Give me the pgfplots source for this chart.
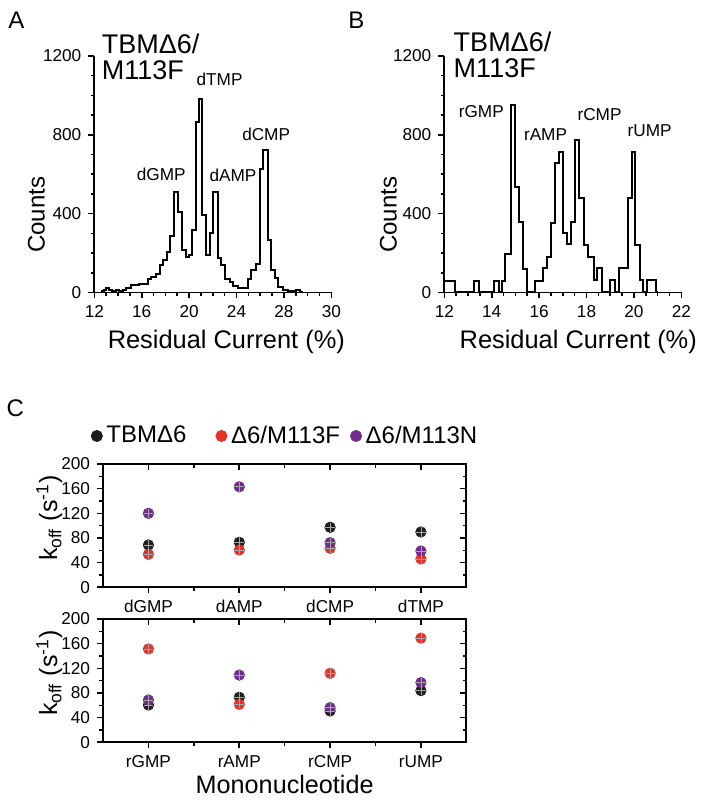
\documentclass[border=0pt]{standalone}
\usepackage{pgfplots}
\pgfplotsset{compat=1.18}
\usepackage{fontspec}
\setmainfont{Liberation Sans}
\definecolor{kred}{RGB}{226,52,43}
\definecolor{kpur}{RGB}{112,45,140}
\definecolor{kblk}{RGB}{30,30,30}

\pgfplotsset{
  histo/.style={
    scale only axis, width=118.5pt, height=118.25pt,
    axis lines=left, axis line style={-, line width=0.9pt},
    tick align=outside, major tick length=3pt, minor tick length=1.8pt,
    every tick/.append style={line width=0.8pt, black},
    ymin=0, ymax=1200, ytick={0,400,800,1200}, minor y tick num=3,
    tick label style={font=\fontsize{8.6}{9}\selectfont},
    /pgf/number format/assume math mode=true,
    /pgf/number format/1000 sep={},
    clip=false, scaled ticks=false,
  },
  kbox/.style={
    scale only axis, width=181.65pt, height=61.65pt,
    xmin=-0.5, xmax=3.5, ymin=0, ymax=200,
    xtick={0,1,2,3}, minor x tick num=1,
    ytick={0,40,...,200}, minor y tick num=1,
    axis line style={line width=0.9pt},
    major tick length=3pt, minor tick length=1.8pt,
    every tick/.append style={line width=0.8pt, black},
    tick label style={font=\fontsize{8.6}{9}\selectfont},
    /pgf/number format/assume math mode=true,
    clip=false,
  },
  kmain/.style={kbox, tick align=outside, xtick pos=bottom, ytick pos=left},
  kmirror/.style={kbox, tick align=inside, xtick pos=top, ytick pos=right,
    xticklabels={}, yticklabels={}},
  dot/.style={only marks, mark=*, mark size=2.6pt},
  cross/.style={only marks, mark=+, mark size=2.4pt, gray!70, forget plot,
    mark options={line width=0.4pt}},
}

\begin{document}
\begin{tikzpicture}
\path (0pt,0pt) rectangle (358.5pt,403.5pt);

% ---- panel A
\begin{axis}[histo, at={(46.5pt,257.25pt)}, anchor=south west,
  xmin=12, xmax=32, xtick={12,16,...,32},
  xticklabels={12,16,20,24,28,30}, minor x tick num=3]
\addplot[const plot, line width=1pt, black] coordinates {
 (12.55,8) (12.8,12) (13.0,25) (13.2,12) (13.5,10) (13.8,12) (14.1,10)
 (14.4,12) (14.7,25) (15.1,37) (15.8,45) (16.5,66) (16.8,80) (17.2,96)
 (17.5,139) (17.8,164) (18.1,203) (18.4,286) (18.7,511) (19.06,409)
 (19.4,215) (19.7,178) (20.0,190) (20.27,316) (20.55,866) (20.83,980)
 (21.11,393) (21.45,190) (21.73,300) (22.02,511) (22.44,173) (22.72,139)
 (23.06,66) (23.43,54) (23.71,34) (24.13,24) (24.97,66) (25.25,113)
 (25.68,147) (25.96,629) (26.24,722) (26.66,265) (26.95,113) (27.23,71)
 (27.51,29) (27.93,15) (28.35,8) (29.05,15) (29.33,0) (29.6,0)
};
\node[inner sep=0pt, anchor=north west, align=left,
  font=\fontsize{13.5}{13}\selectfont] at (axis cs:12.6,1312) {TBMΔ6/\\M113F};
\begin{scope}[every node/.style={font=\fontsize{8.6}{9}\selectfont, inner sep=0pt}]
\node at (axis cs:17.65,601) {dGMP};
\node at (axis cs:22.57,1079) {dTMP};
\node at (axis cs:23.7,596) {dAMP};
\node at (axis cs:26.5,800) {dCMP};
\end{scope}
\node[rotate=90, font=\fontsize{12}{13}\selectfont] at (rel axis cs:-0.245,0.328) {Counts};
\node[font=\fontsize{12.7}{13}\selectfont] at (rel axis cs:0.557,-0.208) {Residual Current (\%)};
\end{axis}

% ---- panel B
\begin{axis}[histo, at={(221.5pt,257.25pt)}, anchor=south west,
  xmin=12, xmax=22, xtick={12,14,...,22}, minor x tick num=3]
\addplot[const plot, line width=1pt, black] coordinates {
 (12.0,60) (12.43,0) (13.25,60) (13.45,0) (14.08,60) (14.3,0) (14.43,60)
 (14.56,195) (14.8,952) (14.97,537) (15.13,359) (15.32,118) (15.48,0)
 (15.81,60) (16.16,123) (16.35,182) (16.51,351) (16.65,656) (16.82,715)
 (17.0,304) (17.19,245) (17.36,357) (17.52,774) (17.7,478) (17.9,241)
 (18.08,182) (18.3,63) (18.45,123) (18.65,0) (19.0,63) (19.22,0)
 (19.35,124) (19.73,478) (19.9,715) (20.05,241) (20.26,63) (20.4,0)
 (20.54,63) (20.93,0) (21.0,0)
};
\node[inner sep=0pt, anchor=north west, align=left,
  font=\fontsize{13.5}{13}\selectfont] at (axis cs:12.38,1322) {TBMΔ6/\\M113F};
\begin{scope}[every node/.style={font=\fontsize{8.6}{9}\selectfont, inner sep=0pt}]
\node at (axis cs:13.56,918) {rGMP};
\node at (axis cs:16.27,800) {rAMP};
\node at (axis cs:18.55,901) {rCMP};
\node at (axis cs:20.66,821) {rUMP};
\end{scope}
\node[rotate=90, font=\fontsize{12}{13}\selectfont] at (rel axis cs:-0.236,0.328) {Counts};
\node[font=\fontsize{12.7}{13}\selectfont] at (rel axis cs:0.565,-0.208) {Residual Current (\%)};
\end{axis}

% ---- panel C top
\begin{axis}[kmain, at={(50.85pt,109.85pt)}, anchor=south west,
  xticklabels={dGMP,dAMP,dCMP,dTMP},
  legend columns=-1,
  legend style={draw=none, fill=none, at={(rel axis cs:-0.050,1.227)}, anchor=west,
    font=\fontsize{12}{13}\selectfont,
    /tikz/every even column/.append style={column sep=1pt}},
  legend image code/.code={\draw[#1, mark size=2.8pt] plot coordinates {(0pt,0pt)};}]
\addplot[dot, kblk] coordinates {(0,68.6) (1,73) (2,97.3) (3,89.7)};
\addlegendentry{\makebox[51.7pt][l]{TBMΔ6}}
\addplot[dot, kred] coordinates {(0,53.5) (1,60.5) (2,63.2) (3,46)};
\addlegendentry{\makebox[56.7pt][l]{Δ6/M113F}}
\addplot[dot, kpur] coordinates {(0,120) (1,163) (2,72.4) (3,58.9)};
\addlegendentry{Δ6/M113N}
\addplot[cross] coordinates {(0,68.6) (1,73) (2,97.3) (3,89.7)
 (0,53.5) (1,60.5) (2,63.2) (3,46) (0,120) (1,163) (2,72.4) (3,58.9)};
\node[rotate=90, font=\fontsize{12.5}{14}\selectfont] at (rel axis cs:-0.148,0.56)
  {k\textsubscript{off} (s\textsuperscript{-1})};
\end{axis}
\begin{axis}[kmirror, at={(50.85pt,109.85pt)}, anchor=south west]
\end{axis}

% ---- panel C bottom
\begin{axis}[kmain, at={(50.85pt,32.35pt)}, anchor=south west,
  xticklabels={rGMP,rAMP,rCMP,rUMP}]
\addplot[dot, kblk] coordinates {(0,60.5) (1,73) (2,50.8) (3,83.8)};
\addplot[dot, kred] coordinates {(0,151.4) (1,61.6) (2,112) (3,169)};
\addplot[dot, kpur] coordinates {(0,68.6) (1,109) (2,56.2) (3,96.8)};
\addplot[cross] coordinates {(0,60.5) (1,73) (2,50.8) (3,83.8)
 (0,151.4) (1,61.6) (2,112) (3,169) (0,68.6) (1,109) (2,56.2) (3,96.8)};
\node[rotate=90, font=\fontsize{12.5}{14}\selectfont] at (rel axis cs:-0.148,0.56)
  {k\textsubscript{off} (s\textsuperscript{-1})};
\node[font=\fontsize{12.6}{14}\selectfont] at (rel axis cs:0.5,-0.346) {Mononucleotide};
\end{axis}
\begin{axis}[kmirror, at={(50.85pt,32.35pt)}, anchor=south west]
\end{axis}

\node[font=\fontsize{12}{12}\selectfont] at (7.5pt,393.5pt) {A};
\node[font=\fontsize{12}{12}\selectfont] at (177.5pt,393.5pt) {B};
\node[font=\fontsize{12}{12}\selectfont] at (7pt,199.5pt) {C};
\end{tikzpicture}
\end{document}
